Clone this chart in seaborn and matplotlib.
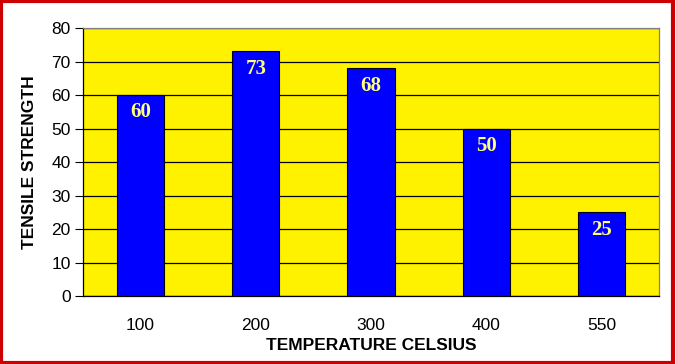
import matplotlib
matplotlib.use("Agg")
import matplotlib.pyplot as plt
import seaborn as sns
import pandas as pd
from matplotlib.patches import Rectangle

temps = ["100", "200", "300", "400", "550"]
strength = [60, 73, 68, 50, 25]

df = pd.DataFrame({"temp": temps, "strength": strength})

sns.set_style("white")
plt.rcParams['font.family'] = ['Liberation Sans', 'DejaVu Sans']
plt.rcParams['text.color'] = 'black'
plt.rcParams['axes.labelcolor'] = 'black'
plt.rcParams['xtick.color'] = 'black'
plt.rcParams['ytick.color'] = 'black'

fig = plt.figure(figsize=(6.76, 3.64), dpi=100)
fig.patch.set_facecolor("white")
ax = fig.add_axes([0.1228, 0.1868, 0.852, 0.7362])
ax.set_facecolor("#FFF200")

sns.barplot(data=df, x="temp", y="strength", color="#0000FF", saturation=1,
            width=0.41, edgecolor="black", linewidth=0.8, ax=ax, zorder=3)

ax.set_ylim(0, 80)
ax.set_yticks(range(0, 81, 10))
ax.yaxis.grid(True, color="black", linewidth=0.9, zorder=0)
ax.set_axisbelow(True)
ax.tick_params(axis="y", which="both", left=True, length=6, width=0.8, labelsize=12.5, pad=3,
               colors="black")
ax.tick_params(axis="x", bottom=False, labelsize=12.5, pad=12, colors="black")

for s in ["left", "bottom"]:
    ax.spines[s].set_color("black")
    ax.spines[s].set_linewidth(0.9)
for s in ["top", "right"]:
    ax.spines[s].set_color("#808080")
    ax.spines[s].set_linewidth(0.9)

ax.set_xlabel("TEMPERATURE CELSIUS", fontsize=12.5, fontweight="bold", labelpad=4, color="black")
ax.set_ylabel("TENSILE STRENGTH", fontsize=12.5, fontweight="bold", labelpad=10, color="black")

for i, v in enumerate(strength):
    ax.text(i, v - 2.2, str(v), ha="center", va="top", fontsize=15,
            fontweight="bold", family="Liberation Serif", color="#FFFF80", zorder=5)

fig.patches.append(Rectangle((0.002, 0.004), 0.994, 0.992, transform=fig.transFigure,
                             fill=False, edgecolor="#CC0000", linewidth=3))

fig.savefig("out.png", dpi=100)
